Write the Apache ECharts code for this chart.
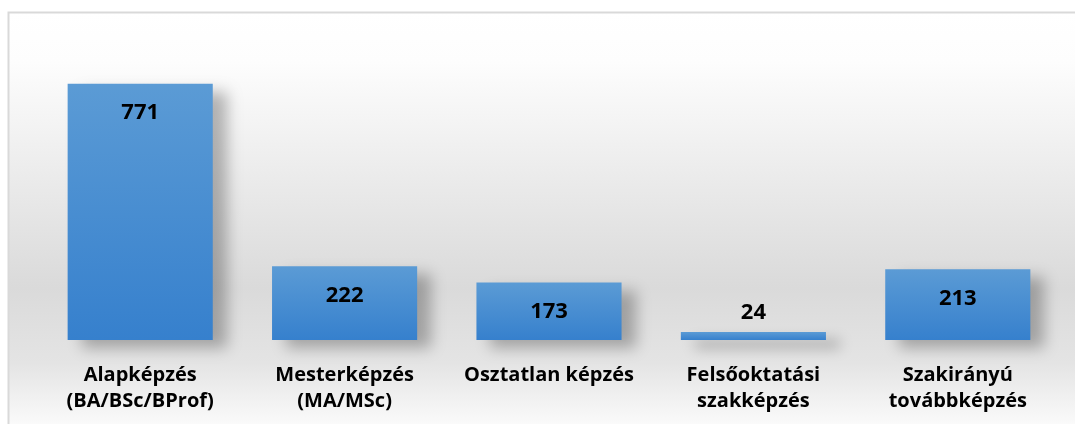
<!DOCTYPE html>
<html>
<head>
<meta charset="utf-8">
<script src="https://cdn.jsdelivr.net/npm/echarts@6/dist/echarts.min.js"></script>
<style>
    html, body { margin: 0; padding: 0; background: #ffffff; }
    #chart { width: 1075px; height: 424px; }
</style>
</head>
<body>
<div id="chart"></div>
<script>
var categories = ['Alapképzés\n(BA/BSc/BProf)', 'Mesterképzés\n(MA/MSc)', 'Osztatlan képzés', 'Felsőoktatási\nszakképzés', 'Szakirányú\ntovábbképzés'];
var values = [771, 222, 173, 24, 213];

var fontName = 'Open Sans';

var myChart = echarts.init(document.getElementById('chart'));

// short bars get the label above them, like in the original
function buildData() {
    var result = [];
    for (var i = 0; i < values.length; i++) {
        var item = {value: values[i]};
        if (values[i] < 100) {
            item.label = {position: 'top', distance: 8};
        }
        result.push(item);
    }
    return result;
}

var option = {
    animation: false,
    graphic: [
        {
            type: 'rect',
            z: -10,
            silent: true,
            shape: {x: 8.5, y: 12.5, width: 1100, height: 500},
            style: {
                fill: new echarts.graphic.LinearGradient(0, 0, 0, 1, [
                    {offset: 0, color: '#ffffff'},
                    {offset: 0.1, color: '#fdfdfd'},
                    {offset: 0.55, color: '#dadada'},
                    {offset: 0.7, color: '#e4e4e4'},
                    {offset: 0.85, color: '#ffffff'},
                    {offset: 1, color: '#ffffff'}
                ]),
                stroke: '#d9d9d9',
                lineWidth: 2
            }
        }
    ],
    grid: {
        left: 38,
        right: 15,
        top: 41,
        bottom: 84
    },
    xAxis: {
        type: 'category',
        data: categories,
        axisLine: {show: false},
        axisTick: {show: false},
        axisLabel: {
            interval: 0,
            margin: 22,
            color: '#000000',
            fontFamily: fontName,
            fontWeight: 'bold',
            fontSize: 20,
            lineHeight: 26
        }
    },
    yAxis: {
        type: 'value',
        min: 0,
        max: 900,
        show: false,
        splitLine: {show: false}
    },
    series: [
        {
            type: 'bar',
            data: buildData(),
            barWidth: '71%',
            itemStyle: {
                color: new echarts.graphic.LinearGradient(0, 0, 0, 1, [
                    {offset: 0, color: '#5b9bd5'},
                    {offset: 1, color: '#3680cd'}
                ]),
                shadowColor: 'rgba(0, 0, 0, 0.28)',
                shadowBlur: 14,
                shadowOffsetX: 14,
                shadowOffsetY: 8
            },
            label: {
                show: true,
                position: 'insideTop',
                distance: 18,
                color: '#000000',
                fontFamily: fontName,
                fontWeight: 'bold',
                fontSize: 22
            }
        }
    ]
};

myChart.setOption(option);
</script>
</body>
</html>
